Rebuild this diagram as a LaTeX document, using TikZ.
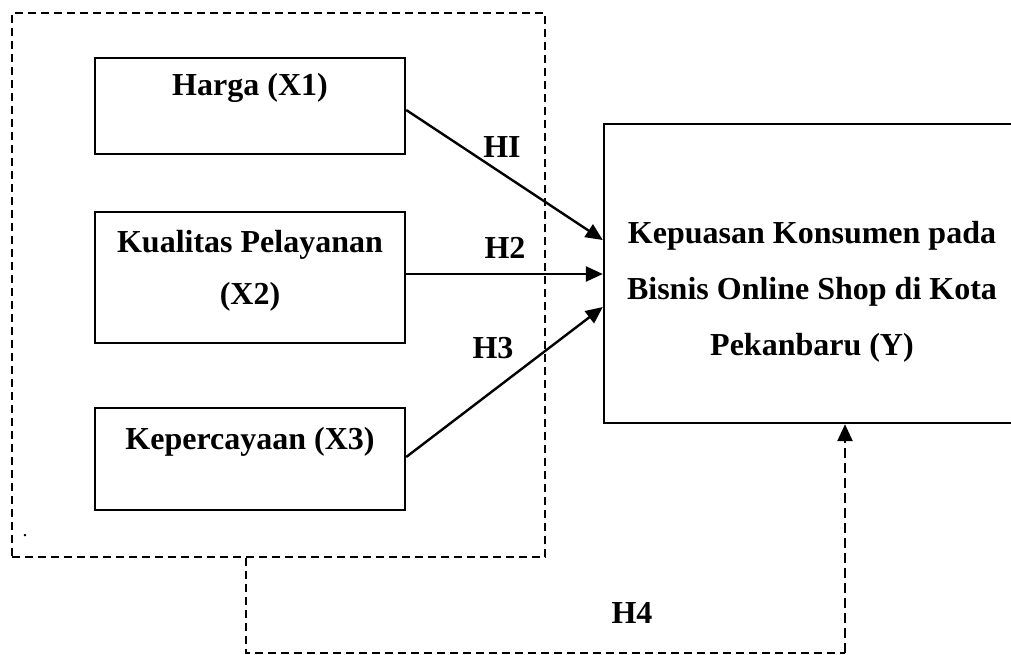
\documentclass[tikz,border=0pt]{standalone}
\usepackage{fontspec}
\setmainfont{Liberation Serif}
\usetikzlibrary{arrows.meta}
\begin{document}
\begin{tikzpicture}[x=1pt,y=-1pt,
  box/.style={draw, line width=2.4pt, inner sep=0pt},
  grpbox/.style={draw, line width=1.3pt, dash pattern=on 8pt off 5pt, inner sep=0pt},
  txt/.style={font=\fontsize{32}{52}\selectfont\bfseries, align=center, inner sep=0pt},
  arr/.style={line width=2.4pt, -{Triangle[length=17pt,width=15pt]}},
  h4line/.style={line width=1.3pt, dash pattern=on 8pt off 5pt},
  h4arr/.style={line width=2.6pt, dash pattern=on 10pt off 5pt, -{Triangle[length=17pt,width=15pt]}}
]
\useasboundingbox (0,0) rectangle (1011,655);
\clip (0,0) rectangle (1011,655);
% group box
\node[grpbox, minimum width=533pt, minimum height=544pt] (grp) at (278.5,285) {};
% independent variable boxes
\node[box, minimum width=310pt, minimum height=96pt] (x1) at (250,106) {};
\node[txt] (x1t) at (250,88) {Harga (X1)};
\node[box, minimum width=310pt, minimum height=131pt] (x2) at (250,277.5) {};
\node[txt] (x2t) at (250,271) {Kualitas Pelayanan\\(X2)};
\node[box, minimum width=310pt, minimum height=102pt] (x3) at (250,459) {};
\node[txt] (x3t) at (250,442) {Kepercayaan (X3)};
% dependent variable box
\node[box, minimum width=416pt, minimum height=299pt] (y) at (812,273.5) {};
\node[txt, font=\fontsize{32}{56}\selectfont\bfseries] (yt) at (812,292) {Kepuasan Konsumen pada\\Bisnis Online Shop di Kota\\Pekanbaru (Y)};
% stray dot
\node[inner sep=0pt, font=\fontsize{20}{20}\selectfont] (dot) at (25,536) {.};
% arrows
\coordinate (x1e) at (405,110);
\coordinate (x2e) at (405,274);
\coordinate (x3e) at (405,457);
\coordinate (y1) at (604,240);
\coordinate (y2) at (604,274);
\coordinate (y3) at (604,307);
\draw[arr] (x1.east |- x1e) -- (y.west |- y1);
\draw[arr] (x2.east |- x2e) -- (y.west |- y2);
\draw[arr] (x3.east |- x3e) -- (y.west |- y3);
\node[txt] (h1) at (502,147) {HI};
\node[txt] (h2) at (505,248) {H2};
\node[txt] (h3) at (493,348) {H3};
% H4 connector
\coordinate (b1) at (246,653);
\coordinate (b2) at (845,653);
\draw[h4line] (grp.south -| b1) -- (b1) -- (b2);
\draw[h4arr] (b2) -- (y.south -| b2);
\node[txt] (h4) at (632,613) {H4};
\end{tikzpicture}
\end{document}
